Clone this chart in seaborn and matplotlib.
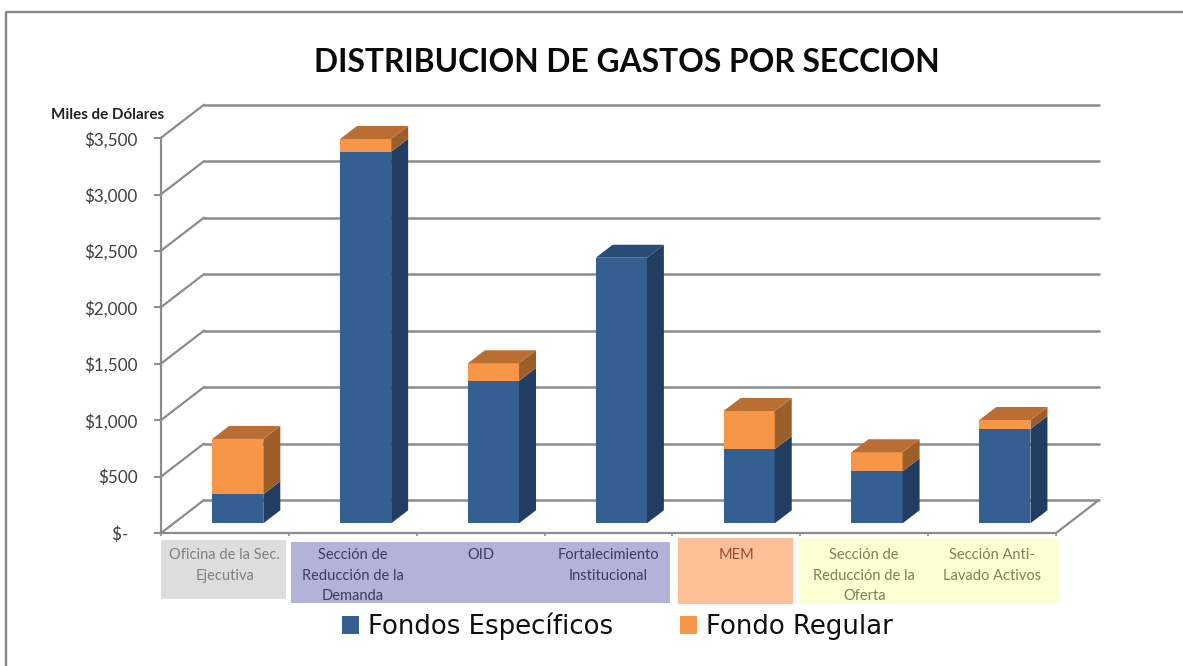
import matplotlib
matplotlib.use("Agg")
import matplotlib.pyplot as plt
from matplotlib.lines import Line2D
from matplotlib.patches import Rectangle
import numpy as np
import pandas as pd
import seaborn as sns

secciones = ["Oficina de la Sec.\nEjecutiva", "Sección de\nReducción de la\nDemanda", "OID",
             "Fortalecimiento\nInstitucional", "MEM", "Sección de\nReducción de la\nOferta",
             "Sección Anti-\nLavado Activos"]
fondos_especificos = [257, 3295, 1262, 2355, 656, 461, 836]
fondo_regular = [491, 113, 157, 0, 340, 169, 80]
y_ticks = [0, 500, 1000, 1500, 2000, 2500, 3000, 3500]
y_labels = ["$-  ", "$500", "$1,000", "$1,500", "$2,000", "$2,500", "$3,000", "$3,500"]
label_colors = ["#808080", "#3c3c62", "#3c3c62", "#3c3c62", "#8a5030", "#7f7f5c", "#7f7f5c"]

W, H = 1183, 666
BLUE, BLUE_SIDE, BLUE_TOP = "#355F91", "#213D5F", "#2A4B74"
ORANGE, ORANGE_SIDE, ORANGE_TOP = "#F79646", "#9C5F2C", "#B96F33"
GRID = "#8C8C8C"
FONT = "Lato"

sns.set_theme(style="white")
plt.rcParams["font.family"] = [FONT, "DejaVu Sans"]
fig = plt.figure(figsize=(W / 100, H / 100), dpi=100, facecolor="white")


def plane(left, right, base, top, z):
    ax = fig.add_axes([left / W, 1 - base / H, (right - left) / W, (base - top) / H], zorder=z)
    ax.patch.set_alpha(0)
    ax.set_xlim(-0.5, 6.5)
    ax.set_ylim(0, 3500)
    return ax


# Back wall, front axis plane and the plane holding the bars
back = plane(204, 1099, 500, 104.7, 1)
front = plane(161, 1056, 533, 138.3, 2)
bars = plane(173.8, 1068.8, 523.3, 128.6, 3)

per_cat = 127.85
per_val = (533 - 138.3) / 3500
wall_dx, wall_dy = 43 / per_cat, 33 / per_val
bar_dx, bar_dy = 17 / per_cat, 13 / per_val

# Back wall grid and side wall
back.set_yticks(y_ticks)
back.set_xticks([])
back.tick_params(left=False, labelleft=False)
back.grid(axis="y", color=GRID, lw=1.8)
for gl in back.get_ygridlines():
    gl.set_clip_on(False)
for s in back.spines.values():
    s.set_visible(False)
for v in y_ticks:
    back.plot([-0.5 - wall_dx, -0.5], [v - wall_dy, v], color=GRID, lw=1.6, clip_on=False)
back.plot([6.5 - wall_dx, 6.5], [-wall_dy, 0], color=GRID, lw=1.6, clip_on=False)

# Front axis
front.set_yticks(y_ticks, y_labels)
front.set_xticks(range(len(secciones)), secciones, multialignment="center", linespacing=1.57)
front.set_xticks(np.arange(-0.5, 7, 1), minor=True)
front.tick_params(axis="x", which="major", bottom=False, pad=5, labelsize=10.5)
front.tick_params(axis="x", which="minor", bottom=True, length=2.5, width=1.2, color=GRID)
front.tick_params(axis="y", left=True, length=5, width=1.5, color=GRID, labelsize=12.3,
                  labelcolor="#404040", pad=12)
for lab, c in zip(front.get_xticklabels(), label_colors):
    lab.set_color(c)
for side in ("top", "right"):
    front.spines[side].set_visible(False)
for side in ("left", "bottom"):
    front.spines[side].set_color(GRID)
    front.spines[side].set_linewidth(1.6)

# Bars
df = pd.DataFrame({"seccion": secciones, "especificos": fondos_especificos, "regular": fondo_regular})
df["total"] = df["especificos"] + df["regular"]
sns.barplot(data=df, x="seccion", y="total", color=ORANGE, width=0.4, saturation=1, ax=bars,
            label="Fondo Regular", linewidth=0)
sns.barplot(data=df, x="seccion", y="especificos", color=BLUE, width=0.4, saturation=1, ax=bars,
            label="Fondos Específicos", linewidth=0)
handles, labels = bars.get_legend_handles_labels()
handles, labels = handles[::-1], labels[::-1]
if bars.get_legend() is not None:
    bars.get_legend().remove()
bars.axis("off")
bars.set_xlim(-0.5, 6.5)
bars.set_ylim(0, 3500)
for i, row in df.iterrows():
    x1 = i + 0.2
    x0 = i - 0.2
    lo, hi = row["especificos"], row["total"]
    bars.fill([x1, x1 + bar_dx, x1 + bar_dx, x1], [0, bar_dy, lo + bar_dy, lo], color=BLUE_SIDE, lw=0, clip_on=False)
    if row["regular"] > 0:
        bars.fill([x1, x1 + bar_dx, x1 + bar_dx, x1], [lo, lo + bar_dy, hi + bar_dy, hi], color=ORANGE_SIDE, lw=0, clip_on=False)
    top_color = ORANGE_TOP if row["regular"] > 0 else BLUE_TOP
    bars.fill([x0, x1, x1 + bar_dx, x0 + bar_dx], [hi, hi, hi + bar_dy, hi + bar_dy], color=top_color, lw=0, clip_on=False)

# Coloured category boxes
boxes = [(161, 286, 540, 599, "#DDDDDD"), (290.7, 670, 541.7, 603, "#B3B3D9"),
         (677.7, 792.7, 537.7, 604, "#FFC097"), (799, 1059, 537.7, 604, "#FFFFD5")]
for l, r, t, b, c in boxes:
    fig.add_artist(Rectangle((l / W, 1 - b / H), (r - l) / W, (b - t) / H, transform=fig.transFigure,
                             facecolor=c, edgecolor="none", zorder=0))

# Chart frame
fig.add_artist(Line2D([6 / W, 6 / W, 1], [0, 1 - 12 / H, 1 - 12 / H], color="#868686", lw=1.7))

# Texts
fig.text(626.5 / W, 1 - 62 / H, "DISTRIBUCION DE GASTOS POR SECCION", ha="center", va="center",
         fontsize=22.9, fontweight="bold", color="#0A0A0A")
fig.text(164 / W, 1 - 115 / H, "Miles de Dólares", ha="right", va="center", fontsize=10.9,
         fontweight="bold", color="#202020")

# Legend
fig.legend(handles, labels, loc="center", bbox_to_anchor=(617.5 / W, 1 - 626.5 / H), ncol=2, frameon=False,
           prop={"family": "DejaVu Sans", "size": 18.7}, handlelength=0.65, handleheight=0.65,
           handletextpad=0.35, columnspacing=2.6, labelcolor="#101010")

fig.savefig("out.png", dpi=100, facecolor="white")
